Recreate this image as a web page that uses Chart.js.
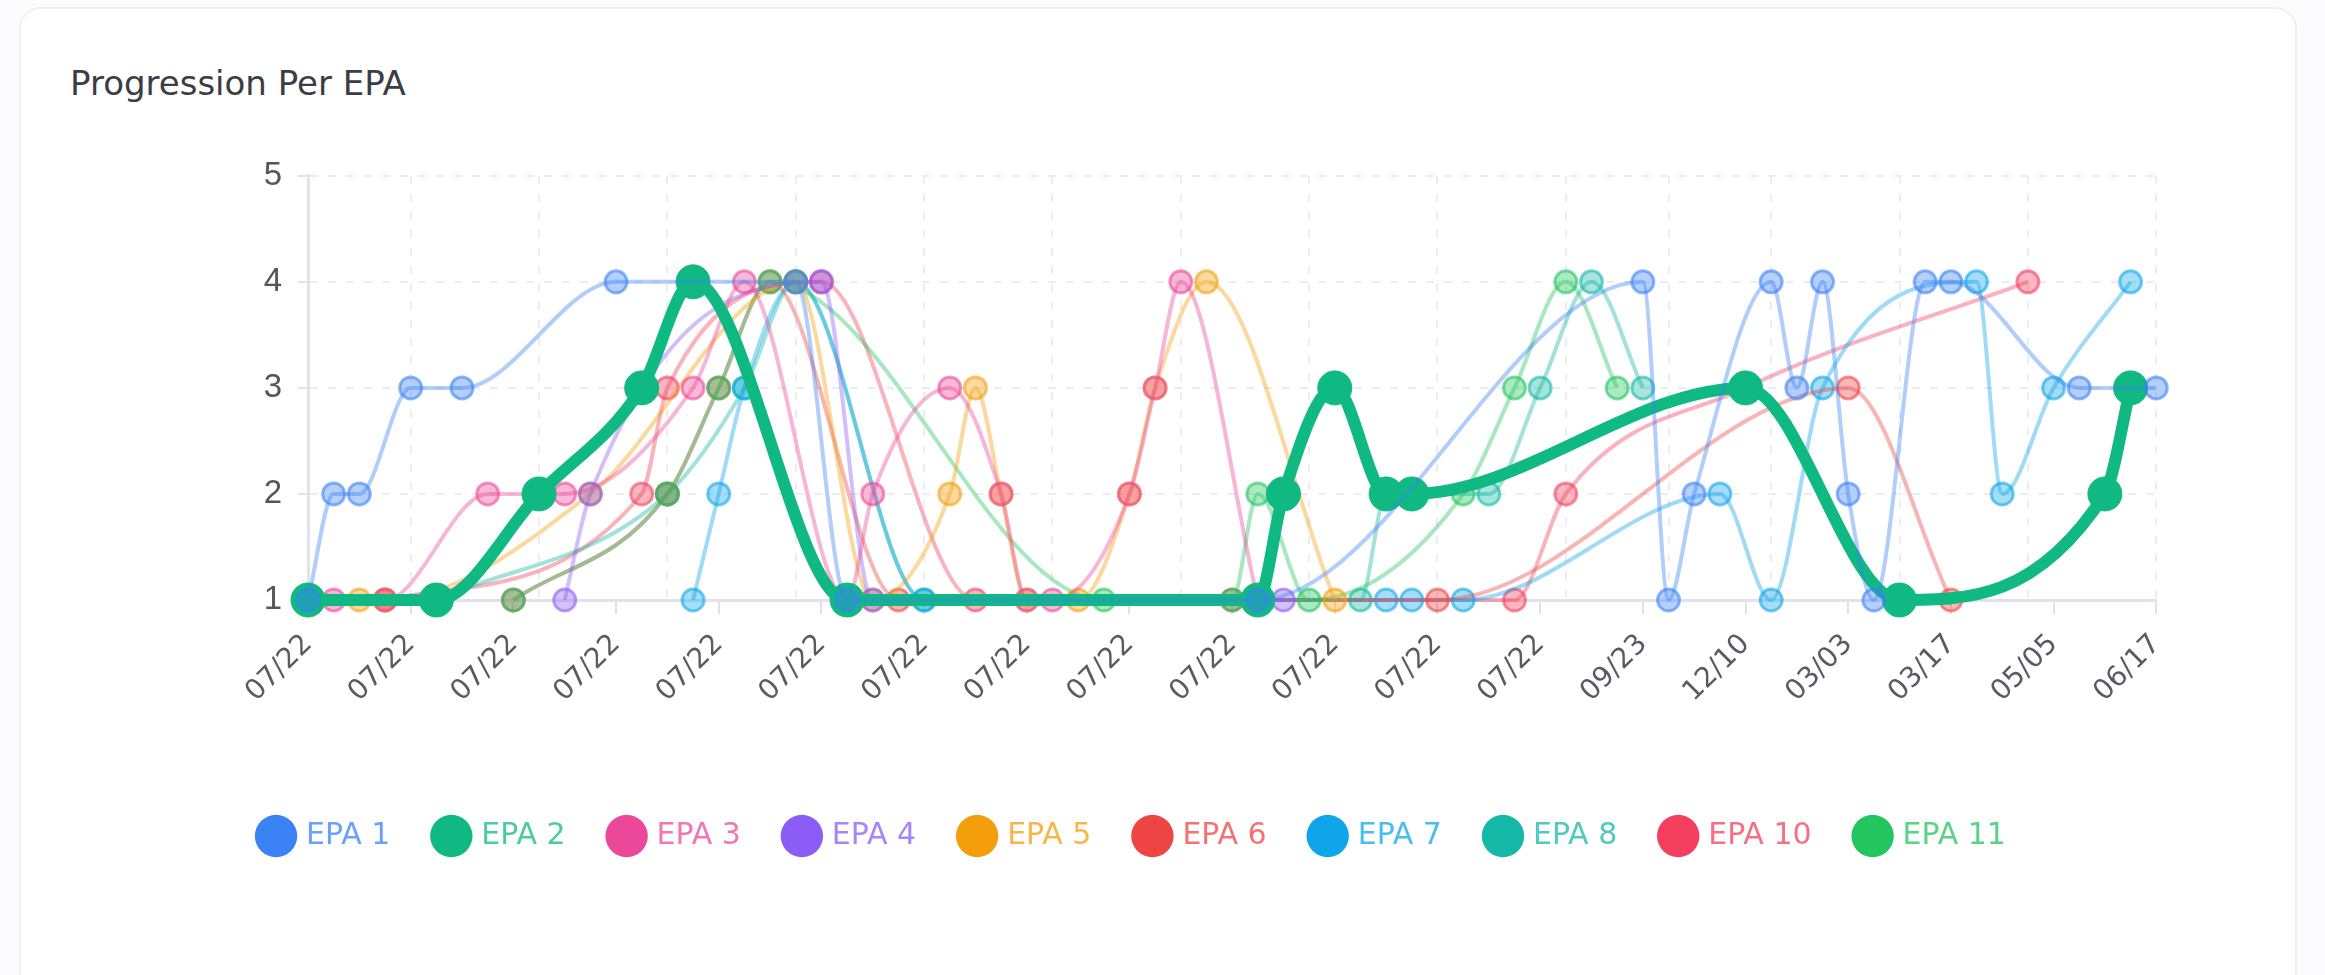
<!DOCTYPE html>
<html><head><meta charset="utf-8">
<script src="https://cdn.jsdelivr.net/npm/chart.js@4.4.0/dist/chart.umd.min.js"></script>
<style>
html,body{margin:0;padding:0;background:#fcfcfe;width:2325px;height:975px;overflow:hidden;}
.card{position:absolute;left:19px;top:7px;width:2278px;height:1100px;background:#fff;border:2px solid #eef0f8;border-radius:22px;box-sizing:border-box;}
.title{position:absolute;left:70px;top:63px;font-family:'DejaVu Sans';font-size:34px;line-height:40px;color:#3c3c44;}
.wrap{position:absolute;left:103px;top:140px;width:2091px;height:760px;}
</style></head>
<body>
<div class="card"></div>
<div class="title">Progression Per EPA</div>
<div class="wrap"><canvas id="c"></canvas></div>
<script>
const _ = null;
const labels = [
 '07/22','07/22','07/22','07/22','07/22','07/22','07/22','07/22','07/22','07/22',
 '07/22','07/22','07/22','07/22','07/22','07/22','07/22','07/22','07/22','07/22',
 '07/22','07/22','07/22','07/22','07/22','07/22','07/22','07/22','07/22','07/22',
 '07/22','07/22','07/22','07/22','07/22','07/22','07/22','07/22','07/22','07/22',
 '07/22','07/22','07/22','07/22','07/22','07/22','07/22','07/22','07/22','07/22',
 '08/05','09/02','09/23','10/14','11/04','11/25','12/10','01/06','01/27','02/17',
 '03/03','03/07','03/10','03/14','03/17','03/31','04/14','04/28','05/05','05/19',
 '06/02','06/09','06/17'
];
const yTicks = [1, 2, 3, 4, 5];
const seriesNames = ['EPA 1','EPA 2','EPA 3','EPA 4','EPA 5','EPA 6','EPA 7','EPA 8','EPA 10','EPA 11'];
//            0 1 2 3 4 5 6 7 8 9 10 11 12 13 14 15 16 17 18 19 20 21 22 23 24 25 26 27 28 29 30 31 32 33 34 35 36 37 38 39 40 41 42 43 44 45 46 47 48 49 50 51 52 53 54 55 56 57 58 59 60 61 62 63 64 65 66 67 68 69 70 71 72
const epa1  = [1,2,2,_,3,_,3,_,_,_, _,_,4,_,_,_,_,_,_,4, _,1,_,_,_,_,_,_,_,_, _,_,_,_,_,_,_,1,_,_, _,_,_,_,_,_,_,_,_,_, _,_,4,1,2,_,_,4,3,4, 2,1,_,4,4,_,_,_,_,3, _,_,3];
const epa2  = [1,_,_,_,_,1,_,_,_,2, _,_,_,3,_,4,_,_,_,_, _,1,_,_,_,_,_,_,_,_, _,_,_,_,_,_,_,1,2,_, 3,_,2,2,_,_,_,_,_,_, _,_,_,_,_,_,3,_,_,_, _,_,1,_,_,_,_,_,_,_, 2,3,_];
const epa3  = [_,1,_,1,_,_,_,2,_,_, 2,_,_,_,_,3,_,4,_,_, _,1,2,_,_,3,_,2,1,1, _,_,2,3,4,_,_,1,_,_, _,_,_,_,_,_,_,_,_,_, _,_,_,_,_,_,_,_,_,_, _,_,_,_,_,_,_,_,_,_, _,_,_];
const epa4  = [_,_,_,_,_,_,_,_,_,_, 1,2,_,_,_,_,_,_,_,_, 4,_,1,_,_,_,_,_,_,_, _,_,_,_,_,_,_,_,1,_, _,_,_,_,_,_,_,_,_,_, _,_,_,_,_,_,_,_,_,_, _,_,_,_,_,_,_,_,_,_, _,_,_];
const epa5  = [_,_,1,1,_,_,_,_,_,_, _,2,_,_,_,_,_,_,_,4, _,_,1,_,_,2,3,2,1,_, 1,_,2,3,_,4,_,_,_,_, 1,_,_,_,_,_,_,_,_,_, _,_,_,_,_,_,_,_,_,_, _,_,_,_,_,_,_,_,_,_, _,_,_];
const epa6  = [_,_,_,_,_,_,_,_,1,_, _,_,_,_,2,_,3,_,4,_, _,_,_,1,_,_,_,_,_,_, _,_,_,_,_,_,1,_,_,_, _,_,_,_,1,_,_,_,_,_, _,_,_,_,_,_,_,_,_,_, 3,_,_,_,1,_,_,_,_,_, _,_,_];
const epa7  = [_,_,_,_,_,_,_,_,_,_, _,_,_,_,_,1,2,3,_,4, _,_,_,_,1,_,_,_,_,_, _,_,_,_,_,_,_,_,_,_, _,_,1,1,_,1,_,_,_,_, _,_,_,_,_,2,_,1,_,3, _,_,_,_,_,4,2,_,3,_, _,4,_];
const epa8  = [_,_,_,_,_,1,_,_,_,_, _,_,_,_,2,_,_,3,_,4, _,_,_,_,1,_,_,_,_,_, _,_,_,_,_,_,_,_,_,_, _,1,2,_,_,_,2,_,3,_, 4,_,3,_,_,_,_,_,_,_, _,_,_,_,_,_,_,_,_,_, _,_,_];
const epa10 = [_,_,_,1,_,_,_,_,_,_, _,_,_,2,3,_,_,_,_,_, 4,_,_,_,_,_,1,_,_,_, _,_,_,_,_,_,_,_,_,_, _,_,_,_,_,_,_,1,_,2, _,_,_,_,_,_,3,_,_,_, _,_,_,_,_,_,_,4,_,_, _,_,_];
const epa11 = [_,_,_,_,_,_,_,_,1,_, _,_,_,_,2,_,3,_,4,_, _,_,_,_,_,_,_,_,_,_, _,1,_,_,_,_,1,2,_,1, _,_,_,_,_,2,_,3,_,4, _,3,_,_,_,_,_,_,_,_, _,_,_,_,_,_,_,_,_,_, _,_,_];
const seriesValues = [epa1, epa2, epa3, epa4, epa5, epa6, epa7, epa8, epa10, epa11];

const colors = ['#3b82f6','#10b981','#ec4899','#8b5cf6','#f59e0b','#ef4444','#0ea5e9','#14b8a6','#f43f5e','#22c55e'];
const drawOrder = [0, 0, 0, 0, 0, 1, 1, 1, 1, 0.5];
const HIGHLIGHT = 1;
const GRID_AT = [4,9,14,19,24,29,34,39,44,49,53,57,62,67,72];
const GRID = '#ececf1';
const AXIS = '#e2e3ea';

function rgba(hex, a){
  const n = parseInt(hex.slice(1),16);
  return `rgba(${(n>>16)&255},${(n>>8)&255},${n&255},${a})`;
}

const datasets = seriesValues.map((vals, i) => {
  const c = colors[i];
  const hi = i === HIGHLIGHT;
  return {
    label: seriesNames[i],
    data: vals,
    order: drawOrder[i],
    baseColor: c,
    borderColor: hi ? c : rgba(c, 0.4),
    backgroundColor: hi ? c : rgba(c, 0.35),
    pointBackgroundColor: hi ? c : rgba(c, 0.38),
    pointBorderColor: hi ? c : rgba(c, 0.58),
    borderWidth: hi ? 12 : 4,
    pointRadius: hi ? 17 : 11,
    pointBorderWidth: hi ? 1 : 3,
    pointHoverRadius: hi ? 17 : 11,
    cubicInterpolationMode: 'monotone',
    tension: 0.4,
    spanGaps: true,
    fill: false,
    clip: false
  };
});

new Chart(document.getElementById('c'), {
  type: 'line',
  data: { labels, datasets },
  options: {
    responsive: true,
    maintainAspectRatio: false,
    animation: false,
    events: [],
    layout: { padding: { left: 0, right: 30, top: 35, bottom: 39 } },
    plugins: {
      tooltip: { enabled: false },
      legend: {
        position: 'bottom',
        labels: {
          usePointStyle: true,
          pointStyle: 'circle',
          boxWidth: 31,
          boxHeight: 31,
          padding: 46,
          font: { family: 'DejaVu Sans', size: 30 },
          generateLabels(chart) {
            return chart.data.datasets.map((d, i) => ({
              text: d.label,
              fillStyle: d.baseColor,
              strokeStyle: d.baseColor,
              fontColor: rgba(d.baseColor, 0.75),
              lineWidth: 0,
              pointStyle: 'circle',
              hidden: false,
              datasetIndex: i
            }));
          }
        }
      }
    },
    scales: {
      x: {
        type: 'category',
        offset: false,
        afterFit(s) { s.height = 175; },
        grid: {
          color: ctx => GRID_AT.includes(ctx.index) ? GRID : 'rgba(0,0,0,0)',
          tickColor: ctx => ctx.index % 4 === 0 ? AXIS : 'rgba(0,0,0,0)',
          lineWidth: 2,
          tickWidth: 2,
          tickLength: 14
        },
        border: { display: true, color: AXIS, width: 3, dash: [8, 10] },
        ticks: {
          autoSkip: false,
          minRotation: 45,
          maxRotation: 45,
          padding: 14,
          color: '#5a5a66',
          font: { family: 'DejaVu Sans', size: 28 },
          callback: function(v, i) { return i % 4 === 0 ? this.getLabelForValue(v) : ''; }
        }
      },
      y: {
        min: yTicks[0],
        max: yTicks[yTicks.length - 1],
        afterFit(s) { s.width = 205; },
        afterBuildTicks(s) { s.ticks = yTicks.map(v => ({ value: v })); },
        grid: { color: GRID, lineWidth: 2, tickLength: 10, tickColor: AXIS, tickWidth: 2 },
        border: { display: true, color: AXIS, width: 3, dash: [8, 10] },
        ticks: {
          padding: 16,
          color: '#55555c',
          font: { family: 'Liberation Sans', size: 33 }
        }
      }
    }
  }
});
</script>
</body></html>
